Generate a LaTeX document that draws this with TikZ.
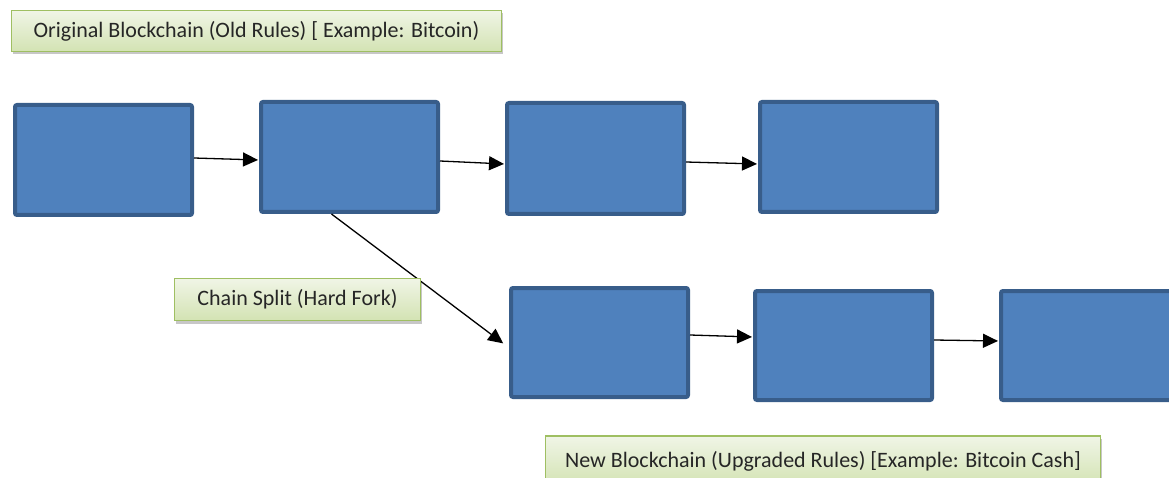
\documentclass[tikz,border=0pt]{standalone}
\usepackage{fontspec}
\setmainfont{Carlito}
\usetikzlibrary{arrows.meta,shadows,calc}
\definecolor{blkfill}{HTML}{4F81BD}
\definecolor{blkline}{HTML}{385D8A}
\definecolor{lbltop}{HTML}{F0F5E6}
\definecolor{lblbot}{HTML}{D3E3B3}
\definecolor{lblline}{HTML}{9FBF62}
\definecolor{txt}{HTML}{262626}
\tikzset{
  blk/.style={draw=blkline, fill=blkfill, line width=4pt, rounded corners=2pt,
    minimum width=177pt, minimum height=110pt, anchor=north west, inner sep=0pt},
  lbl/.style={draw=lblline, line width=1.3pt, top color=lbltop, bottom color=lblbot,
    text=txt, font=\fontsize{22}{26}\selectfont, inner sep=0pt,
    drop shadow={shadow xshift=1.5pt, shadow yshift=-3pt, opacity=0.22, fill=black}},
  link/.style={draw=black, line width=1.3pt, shorten >=1pt, -{Triangle[length=15pt,width=14pt]}}
}
\begin{document}
\begin{tikzpicture}[x=1pt,y=-1pt]
\useasboundingbox (0,0) rectangle (1169,478);
\begin{scope}
\clip (0,0) rectangle (1169,478);
\node[blk] (b1) at (13,103) {};
\node[blk] (b2) at (259,100) {};
\node[blk, minimum height=111pt] (b3) at (505,101) {};
\node[blk] (b4) at (758,100) {};
\node[blk, minimum height=109pt] (b5) at (509,286) {};
\node[blk, minimum height=109pt] (b6) at (753,289) {};
\node[blk, minimum height=109pt, minimum width=180pt] (b7) at (999,289) {};

\draw[link] ([yshift=2pt]b1.east) -- ([yshift=-3pt]b2.west);
\draw[link] ([yshift=-4pt]b2.east) -- ([yshift=-5.5pt]b3.west);
\draw[link] ([yshift=-3.5pt]b3.east) -- ([yshift=-7pt]b4.west);
\draw[link] ([xshift=-18pt]b2.south) -- ([xshift=-5pt,yshift=-1.5pt]b5.west);
\draw[link] ([yshift=7.5pt]b5.east) -- ([yshift=8.5pt]b6.west);
\draw[link] ([yshift=5.5pt]b6.east) -- ([yshift=4.5pt]b7.west);

\node[lbl, minimum width=490pt, minimum height=41pt] (l1) at (256.5,31) {Original Blockchain (Old Rules) [ Example: Bitcoin)};
\node[lbl, minimum width=246pt, minimum height=42pt] (l2) at (297.5,299.5) {Chain Split (Hard Fork)};
\node[lbl, minimum width=555pt, minimum height=50pt] (l3) at (823,461) {New Blockchain (Upgraded Rules) [Example: Bitcoin Cash]};
\end{scope}
\end{tikzpicture}
\end{document}
